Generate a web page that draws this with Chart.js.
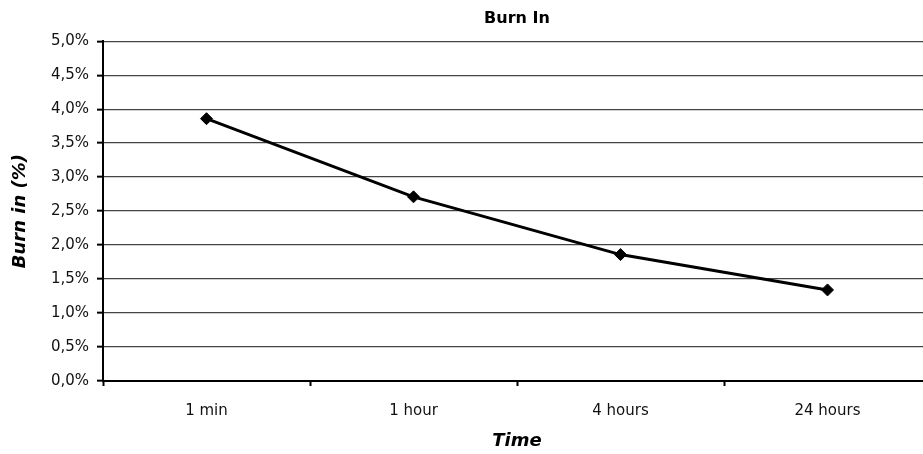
<!DOCTYPE html>
<html>
<head>
<meta charset="utf-8">
<script src="https://cdn.jsdelivr.net/npm/chart.js@4/dist/chart.umd.min.js"></script>
<style>
  html, body { margin: 0; padding: 0; background: #fff; overflow: hidden; }
  #wrap { width: 940px; height: 454px; position: relative; }
</style>
</head>
<body>
<div id="wrap"><canvas id="c"></canvas></div>
<script>
const categories = ["1 min", "1 hour", "4 hours", "24 hours"];
const burnIn = [0.0386, 0.0271, 0.0186, 0.0134];
const chartTitle = "Burn In";
const xTitle = "Time";
const yTitle = "Burn in (%)";

const FONT = "'DejaVu Sans', Verdana, sans-serif";

new Chart(document.getElementById('c'), {
  type: 'line',
  data: {
    labels: categories,
    datasets: [{
      data: burnIn,
      borderColor: '#000',
      backgroundColor: '#000',
      borderWidth: 3,
      pointStyle: 'rectRot',
      pointRadius: 6,
      pointBorderWidth: 1,
      tension: 0,
      fill: false
    }]
  },
  options: {
    responsive: true,
    maintainAspectRatio: false,
    animation: false,
    layout: { padding: { left: 0, right: 9, top: 0, bottom: 0 } },
    plugins: {
      legend: { display: false },
      tooltip: { enabled: false },
      title: {
        display: true,
        fullSize: false,
        text: chartTitle,
        color: '#000',
        font: { family: FONT, size: 16, weight: 'bold' },
        padding: { top: 9, bottom: 13 }
      }
    },
    scales: {
      x: {
        offset: true,
        grid: {
          offset: true,
          drawOnChartArea: false,
          drawTicks: true,
          tickLength: 5,
          tickColor: '#000',
          tickWidth: 2
        },
        border: { display: true, color: '#000', width: 2 },
        ticks: {
          color: '#111',
          font: { family: FONT, size: 15 },
          padding: 16,
          maxRotation: 0
        },
        title: {
          display: true,
          text: xTitle,
          color: '#000',
          font: { family: FONT, size: 18, weight: 'bold', style: 'italic' },
          padding: { top: 4, bottom: 2 }
        },
        afterFit: (s) => { s.height = 73; }
      },
      y: {
        min: 0,
        max: 0.05,
        ticks: {
          stepSize: 0.005,
          color: '#111',
          font: { family: FONT, size: 15 },
          padding: 8,
          callback: (v) => (v * 100).toFixed(1).replace('.', ',') + '%'
        },
        grid: {
          color: '#444',
          lineWidth: 1.3,
          tickLength: 6,
          tickColor: '#000',
          tickWidth: 2
        },
        border: { display: true, color: '#000', width: 2 },
        title: {
          display: true,
          text: yTitle,
          color: '#000',
          font: { family: FONT, size: 18, weight: 'bold', style: 'italic' },
          padding: { top: 10, bottom: 4 }
        },
        afterFit: (s) => { s.width = 103; }
      }
    }
  }
});
</script>
</body>
</html>
